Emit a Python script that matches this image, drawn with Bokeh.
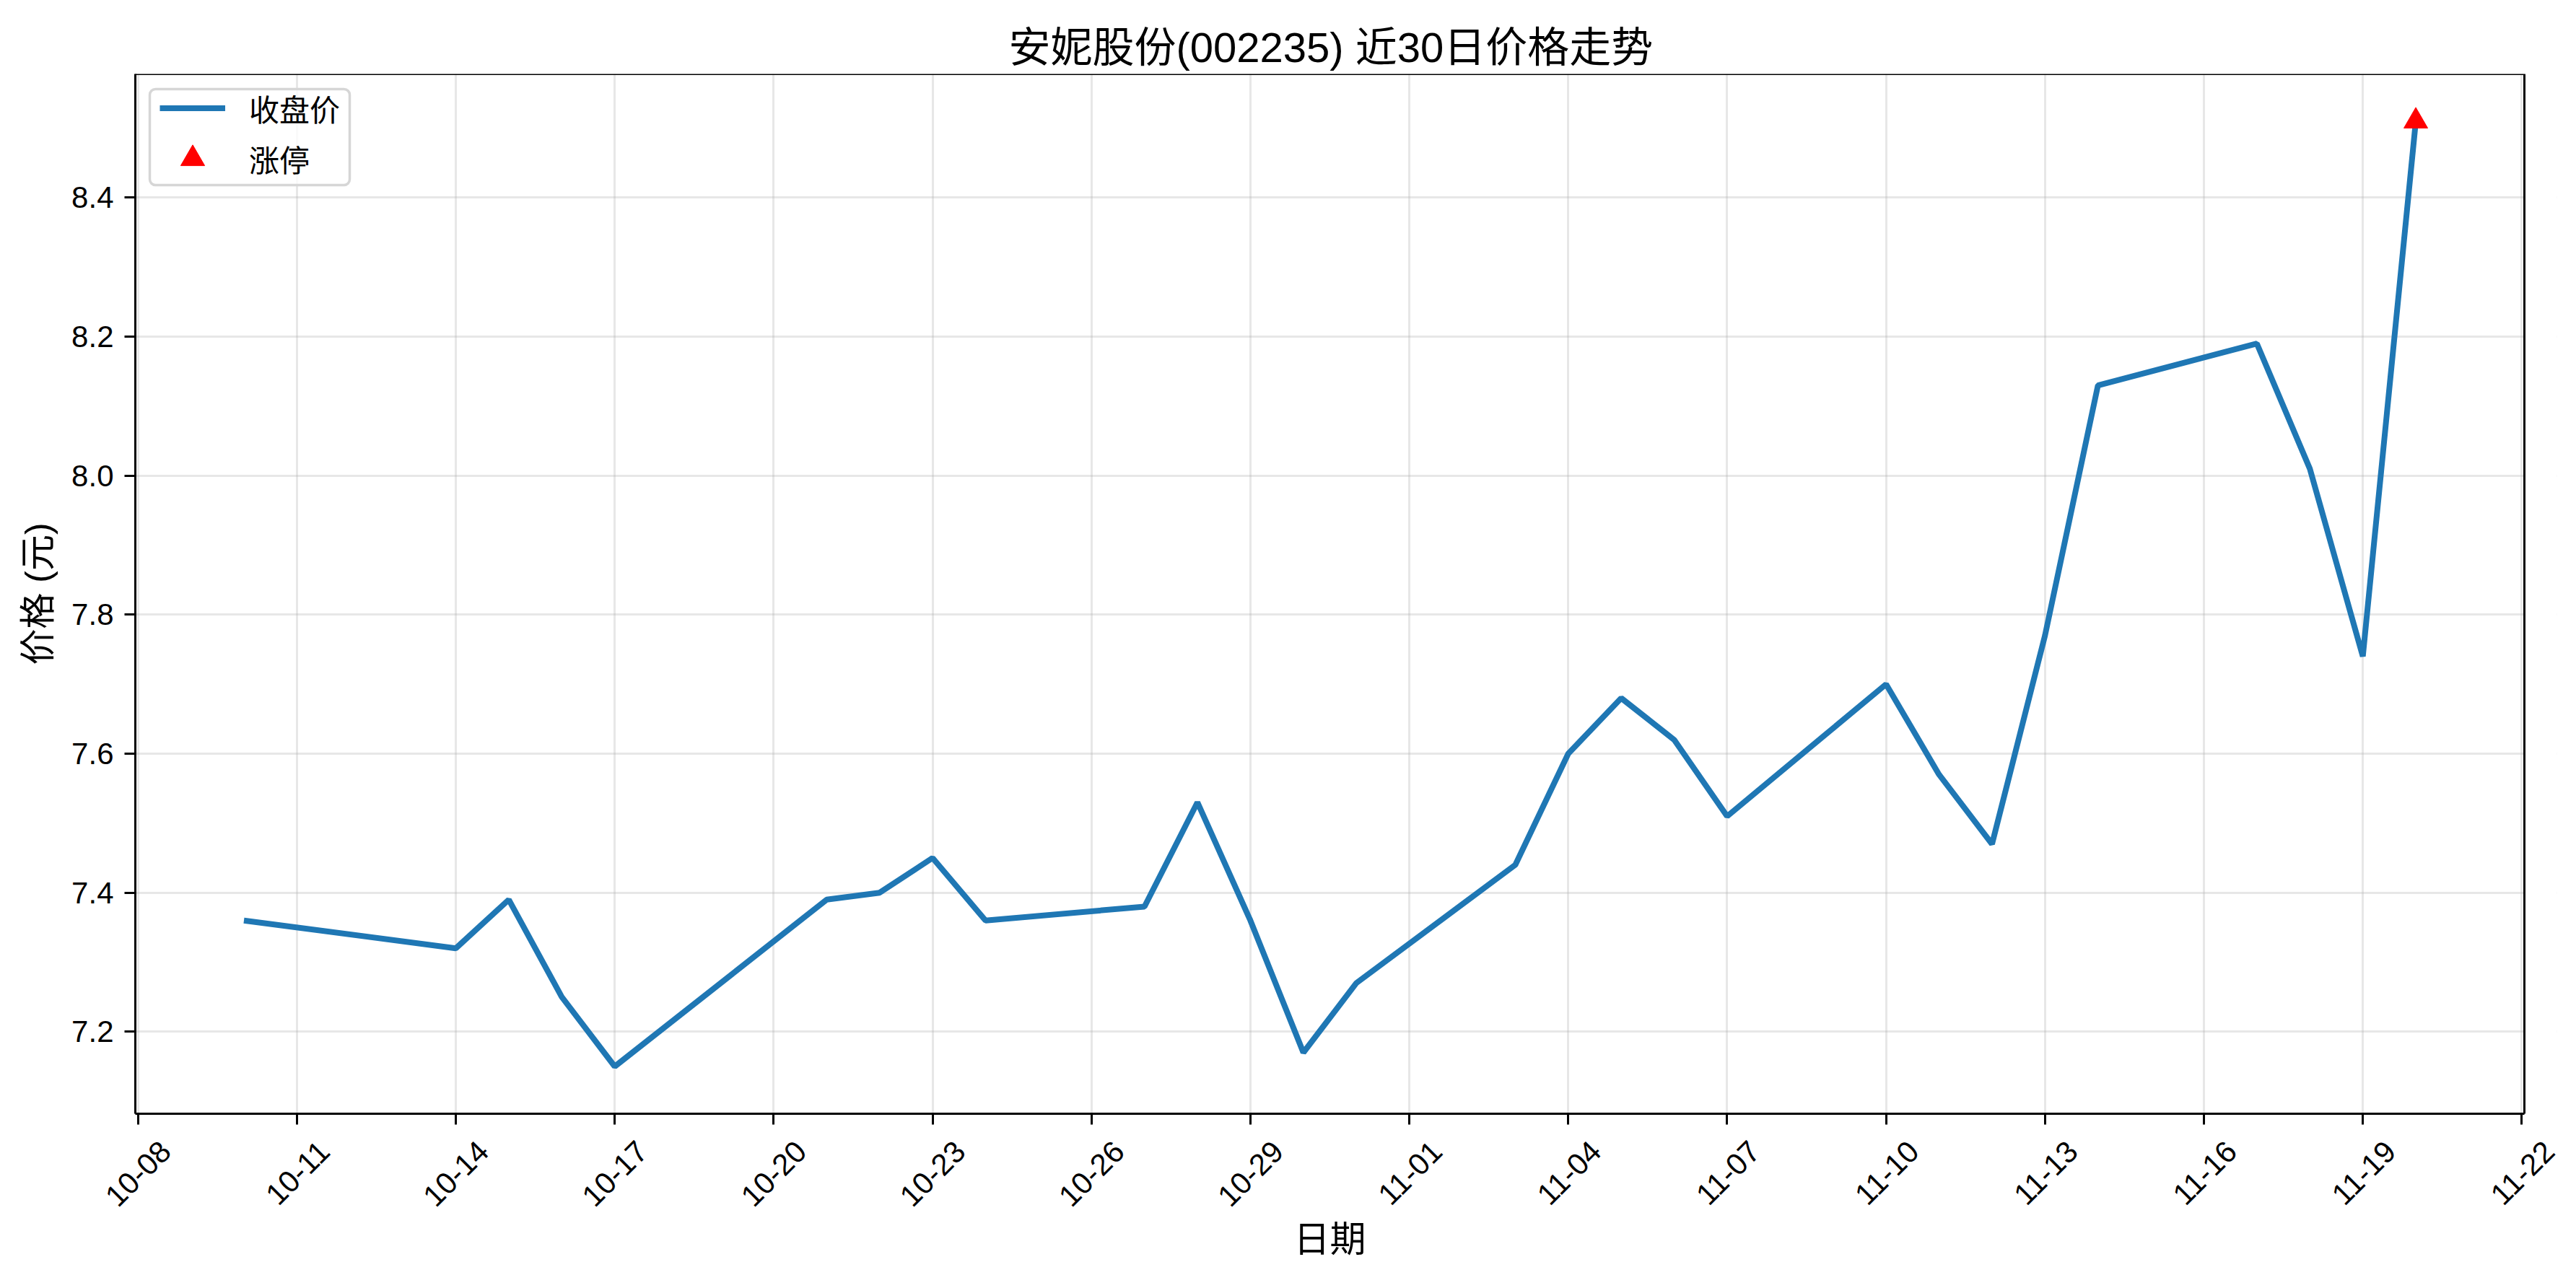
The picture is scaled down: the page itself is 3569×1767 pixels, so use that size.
import pandas as pd
from math import pi
from bokeh.plotting import figure
from bokeh.models import (Range1d, FixedTicker, DatetimeTickFormatter, NumeralTickFormatter,
                          ColumnDataSource, DatetimeAxis, BoxAnnotation, Legend, LegendItem, Title)
from bokeh.embed import file_html
from bokeh.resources import INLINE

# ---- data ----
dates = ["2025-10-10", "2025-10-14", "2025-10-15", "2025-10-16", "2025-10-17",
         "2025-10-21", "2025-10-22", "2025-10-23", "2025-10-24", "2025-10-27",
         "2025-10-28", "2025-10-29", "2025-10-30", "2025-10-31", "2025-11-03",
         "2025-11-04", "2025-11-05", "2025-11-06", "2025-11-07", "2025-11-10",
         "2025-11-11", "2025-11-12", "2025-11-13", "2025-11-14", "2025-11-17",
         "2025-11-18", "2025-11-19", "2025-11-20"]
close = [7.36, 7.32, 7.39, 7.25, 7.15,
         7.39, 7.40, 7.45, 7.36, 7.38,
         7.53, 7.36, 7.17, 7.27, 7.44,
         7.60, 7.68, 7.62, 7.51, 7.70,
         7.57, 7.47, 7.77, 8.13, 8.19,
         8.01, 7.74, 8.51]
limit_up_dates = ["2025-11-20"]
limit_up_prices = [8.51]
x_tick_dates = ["2025-10-08", "2025-10-11", "2025-10-14", "2025-10-17", "2025-10-20",
                "2025-10-23", "2025-10-26", "2025-10-29", "2025-11-01", "2025-11-04",
                "2025-11-07", "2025-11-10", "2025-11-13", "2025-11-16", "2025-11-19",
                "2025-11-22"]
y_ticks = [7.2, 7.4, 7.6, 7.8, 8.0, 8.2, 8.4]

title_text = "安妮股份(002235) 近30日价格走势"
x_label = "日期"
y_label = "价格 (元)"
line_label = "收盘价"
marker_label = "涨停"

FONT = "Liberation Sans, Noto Sans CJK SC"

dt = pd.to_datetime(dates)
lu_dt = pd.to_datetime(limit_up_dates)
src = ColumnDataSource(dict(x=dt, y=close))
src_lu = ColumnDataSource(dict(x=lu_dt, y=limit_up_prices))

# axis limits (matplotlib-style 5% margins)
xmin, xmax = dt.min(), dt.max()
xpad = (xmax - xmin) * 0.05
x_start, x_end = xmin - xpad, xmax + xpad
ymin, ymax = min(close + limit_up_prices), max(close + limit_up_prices)
ypad = (ymax - ymin) * 0.05

# layout helpers (pixels): plot box is 3310 px wide; the frame gets a spare strip on the
# right so that the 45-degree tick labels can be centred under their ticks.
BOX_W, EXTRA_PX, LABEL_SHIFT_PX = 3310, 45, 38
x_span = x_end - x_start
extra = x_span * (EXTRA_PX / BOX_W)
shift = x_span * (LABEL_SHIFT_PX / BOX_W)

p = figure(width=3553, height=1751, output_backend="svg", toolbar_location=None,
           x_axis_type="datetime",
           x_range=Range1d(x_start, x_end + extra),
           y_range=Range1d(ymin - ypad, ymax + ypad),
           min_border_left=187, min_border_right=56 - EXTRA_PX, min_border_top=102,
           min_border_bottom=208)

r_line = p.line("x", "y", source=src, line_color="#1f77b4", line_width=8)
r_tri = p.scatter("x", "y", source=src_lu, marker="triangle", size=33, fill_color="red",
                  line_color="red")

# title (left-aligned with an offset so that it is centred over the plot box)
p.title.text = title_text
p.title.align = "left"
p.title.offset = 1210
p.title.text_font = FONT
p.title.text_font_size = "58px"
p.title.text_font_style = "normal"
p.title.text_color = "black"
p.title.standoff = 10

# axes
ticker = FixedTicker(ticks=[pd.Timestamp(d).value / 1e6 for d in x_tick_dates])
fmt = "%m-%d"
formatter = DatetimeTickFormatter(milliseconds=fmt, seconds=fmt, minsec=fmt, minutes=fmt,
                                  hourmin=fmt, hours=fmt, days=fmt, months=fmt, years=fmt)
p.xaxis.ticker = ticker
p.xaxis.formatter = formatter
p.xaxis.bounds = (x_start, x_end)
p.yaxis.ticker = FixedTicker(ticks=y_ticks)
p.yaxis.formatter = NumeralTickFormatter(format="0.0")
p.yaxis.axis_label = y_label

for ax in (p.xaxis, p.yaxis):
    ax.axis_line_color = "black"
    ax.axis_line_width = 3
    ax.major_tick_line_width = 3
    ax.major_tick_line_color = "black"
    ax.major_tick_out = 15
    ax.major_tick_in = 0
    ax.minor_tick_line_color = None
    ax.major_label_text_font = FONT
    ax.major_label_text_font_size = "42px"
    ax.major_label_text_color = "black"
    ax.major_label_standoff = 15
    ax.axis_label_text_font = FONT
    ax.axis_label_text_font_size = "50px"
    ax.axis_label_text_font_style = "normal"
    ax.axis_label_text_color = "black"
p.yaxis.axis_label_standoff = 15
# main x axis: line + ticks; labels come from a companion axis that centres them
p.xaxis.major_label_text_color = None
p.xaxis.major_label_standoff = 0

p.extra_x_ranges = {"lbl": Range1d(x_start - shift, x_end + extra - shift)}
lab_ax = DatetimeAxis(x_range_name="lbl", ticker=ticker, formatter=formatter,
                      axis_line_color=None, major_tick_line_color=None, minor_tick_line_color=None,
                      major_tick_out=0, major_tick_in=0,
                      major_label_orientation=pi / 4, major_label_standoff=30,
                      major_label_text_font=FONT, major_label_text_font_size="42px",
                      major_label_text_color="black")
p.add_layout(lab_ax, "below")
p.add_layout(Title(text=x_label, align="left", offset=1605, text_font=FONT,
                   text_font_size="50px", text_font_style="normal", text_color="black",
                   standoff=0), "below")

p.grid.grid_line_color = "#b0b0b0"
p.grid.grid_line_alpha = 0.3
p.grid.grid_line_width = 3

p.background_fill_color = "white"
p.border_fill_color = "white"

# spare strip right of the plot box stays blank; the plot box gets its own black frame
p.outline_line_color = None
p.add_layout(BoxAnnotation(left=x_end, fill_color="white", fill_alpha=1, line_color=None,
                           level="underlay"))
p.add_layout(BoxAnnotation(right=x_end, fill_alpha=0, line_color="black", line_alpha=1,
                           line_width=3, level="overlay"))

# legend frame (rounded box drawn behind the legend items); screen units from frame bottom-left
frame_bottom = 1543
box = BoxAnnotation(left=20, right=297, top=frame_bottom - 123, bottom=frame_bottom - 256,
                    left_units="screen", right_units="screen", top_units="screen", bottom_units="screen",
                    fill_color="white", fill_alpha=0.8, line_color="#d6d6d6", line_alpha=1,
                    line_width=3.5, border_radius=8, level="underlay")
p.add_layout(box)


def make_legend(item, gh, loc):
    lg = Legend(items=[item], location=loc, margin=0, padding=0, spacing=0,
                glyph_width=91, glyph_height=gh, label_height=45, label_standoff=33,
                label_text_font=FONT, label_text_font_size="42px", label_text_color="black",
                border_line_color=None, background_fill_alpha=0)
    p.add_layout(lg)
    return lg


make_legend(LegendItem(label=line_label, renderers=[r_line]), 45, (34, frame_bottom - 180))
make_legend(LegendItem(label=marker_label, renderers=[r_tri]), 83, (34, frame_bottom - 261))

open("out.html", "w").write(file_html(p, INLINE))
